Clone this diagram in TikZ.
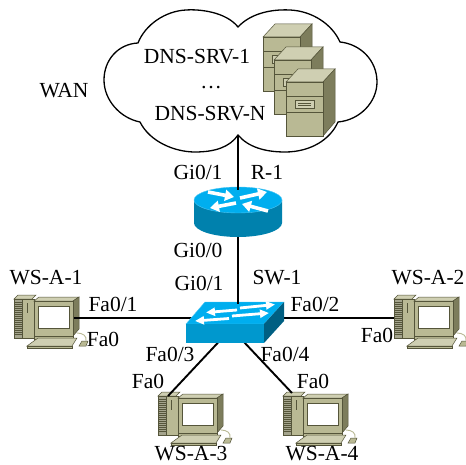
\documentclass[tikz,border=0pt]{standalone}
\usepackage{fontspec}
\usetikzlibrary{arrows.meta}
\setmainfont{Liberation Serif}
\definecolor{srvfront}{HTML}{B9B994}
\definecolor{srvtop}{HTML}{CFCFB2}
\definecolor{srvside}{HTML}{7D7D5C}
\definecolor{srvline}{HTML}{55553A}
\definecolor{ciscotop}{HTML}{00AEEF}
\definecolor{ciscoside}{HTML}{0081AD}
\definecolor{ciscofront}{HTML}{0098CE}
\definecolor{ciscodark}{HTML}{005F82}
\tikzset{
  lbl/.style={font=\fontsize{21.5}{21.5}\selectfont,inner sep=0pt,text=black},
  link/.style={draw=black,line width=1.9pt},
  part/.style={draw=srvline,line width=0.5pt},
  rarrow/.style={draw=white,line width=3.6pt,-{Triangle[width=11pt,length=9pt,fill=white]}},
  sarrow/.style={draw=white,line width=2.8pt,-{Triangle[width=8pt,length=9pt,fill=white]}},
  pics/server/.style={code={
    \path[part,fill=srvtop] (0,0) -- (12,-13) -- (49,-13) -- (37,0) -- cycle;
    \path[part,fill=srvside] (37,0) -- (49,-13) -- (49,40) -- (37,54) -- cycle;
    \path[part,fill=srvfront] (0,0) rectangle (37,54);
    \draw[srvline,line width=0.5pt] (0,14) -- (37,14) (0,30) -- (37,30);
    \path[part,fill=srvtop] (9,18) rectangle (28,26);
    \draw[srvline,line width=0.5pt] (12,21) -- (25,21) (12,23.5) -- (25,23.5);
  }},
  pics/pc/.style={code={
    \path[part,fill=srvtop] (0,4) -- (4,0) -- (22,0) -- (18,4) -- cycle;
    \path[part,fill=srvside!70!white] (0,4) rectangle (8,43);
    \foreach \yy in {7,9,...,39}{\draw[srvline,line width=0.5pt] (0,\yy) -- (8,\yy);}
    \path[part,fill=srvfront] (8,4) rectangle (20,43);
    \draw[srvline,line width=0.8pt] (13,8) -- (13,18);
    \path[part,fill=srvtop] (20,6) -- (25,2) -- (65,2) -- (59,6) -- cycle;
    \path[part,fill=srvside] (59,6) -- (65,2) -- (65,34) -- (59,41) -- cycle;
    \path[part,fill=srvfront] (20,6) rectangle (59,41);
    \path[draw=srvline,line width=0.9pt,fill=white] (24,11) rectangle (55,33);
    \path[part,fill=srvfront] (20,41) -- (59,41) -- (59,44) -- (20,44) -- cycle;
    \path[part,fill=srvtop] (13,51) -- (24,43) -- (63,43) -- (58,51) -- cycle;
    \path[part,fill=srvfront] (13,51) rectangle (58,53);
    \draw[srvfront,line width=0.9pt] (63,38) .. controls (69,38) and (73,41) .. (72,46);
    \path[part,fill=srvfront] (65,51) -- (68,46) -- (74,46) -- (72,51) -- cycle;
  }}
}
\begin{document}
\begin{tikzpicture}[x=1pt,y=-1pt]
\useasboundingbox (0,0) rectangle (466,465);
\fill[white] (0,0) rectangle (466,465);
% cloud
\draw[black,line width=1.3pt,fill=white]
  (238,27) .. controls (226,12) and (200,9) .. (186,10)
  .. controls (165,11) and (145,25) .. (138,43)
  .. controls (118,44) and (104,60) .. (104,80)
  .. controls (104,100) and (120,118) .. (140,122)
  .. controls (150,142) and (175,152) .. (195,152)
  .. controls (215,152) and (230,147) .. (238,135)
  .. controls (248,147) and (265,152) .. (285,152)
  .. controls (310,152) and (330,140) .. (338,122)
  .. controls (360,120) and (377,102) .. (377,82)
  .. controls (377,60) and (360,44) .. (340,42)
  .. controls (332,24) and (312,11) .. (290,10)
  .. controls (270,9) and (250,14) .. (238,27) -- cycle;
\pic at (263,37) {server};
\pic at (274,60) {server};
\pic at (286,82) {server};
\node[lbl] (wan) at (64,91) {WAN};
\node[lbl] (dns1) at (197,57) {DNS-SRV-1};
\node[lbl] (dots) at (211,88) {…};
\node[lbl] (dnsn) at (210,114) {DNS-SRV-N};
% named ports
\coordinate (cloudport) at (238,135);
\coordinate (rtop) at (238,190);
\coordinate (rbot) at (238,237);
\coordinate (swtop) at (238,304);
\coordinate (swleft) at (195,318);
\coordinate (swright) at (280,318);
\coordinate (swdl) at (219.5,341);
\coordinate (swdr) at (243,341);
\coordinate (pc1port) at (74,318);
\coordinate (pc2port) at (394,318);
\coordinate (pc3port) at (168,396);
\coordinate (pc4port) at (292,393);
% PCs
\pic at (14,295) {pc};
\pic at (394,295) {pc};
\pic at (158,392) {pc};
\pic at (283,392) {pc};
% connectors
\draw[link] (pc1port) -- (swleft);
\draw[link] (swright) -- (pc2port);
\draw[link] (swdl) -- (pc3port);
\draw[link] (swdr) -- (pc4port);
% router
\path[fill=ciscoside] (194,200) -- (194,223) arc[start angle=180,end angle=0,x radius=44,y radius=14] -- (282,200) -- cycle;
\path[fill=ciscotop,draw=ciscotop!70!white,line width=0.4pt] (238,200) ellipse[x radius=44,y radius=13];
\draw[link] (cloudport) -- (rtop);
\draw[rarrow] (208,192) -- (234,197);
\draw[rarrow] (236,203) -- (210,208);
\draw[rarrow] (240,198) -- (267,192);
\draw[rarrow] (268,211) -- (242,204);
% switch
\path[fill=ciscotop,draw=ciscotop!70!white,line width=0.4pt] (186,324) -- (205,302) -- (284,302) -- (264,324) -- cycle;
\path[fill=ciscodark] (264,324) -- (284,302) -- (284,321) -- (264,343) -- cycle;
\path[fill=ciscofront] (186,324) rectangle (264,343);
\draw[link] (rbot) -- (swtop);
\draw[sarrow] (240,308) -- (275,304.5);
\draw[sarrow] (237,310) -- (206,312.5);
\draw[sarrow] (232,316) -- (269,313);
\draw[sarrow] (229,318.5) -- (195,321);
% labels
\node[lbl] (l1) at (198,172) {Gi0/1};
\node[lbl] (l2) at (267,172) {R-1};
\node[lbl] (l3) at (198,250) {Gi0/0};
\node[lbl] (l4) at (199,283) {Gi0/1};
\node[lbl] (l5) at (277,278) {SW-1};
\node[lbl] (l6) at (46,278) {WS-A-1};
\node[lbl] (l7) at (428,278) {WS-A-2};
\node[lbl] (l8) at (113,304) {Fa0/1};
\node[lbl] (l9) at (315,304) {Fa0/2};
\node[lbl] (l10) at (103,339) {Fa0};
\node[lbl] (l11) at (377,335) {Fa0};
\node[lbl] (l12) at (170,354) {Fa0/3};
\node[lbl] (l13) at (285,354) {Fa0/4};
\node[lbl] (l14) at (148,381) {Fa0};
\node[lbl] (l15) at (313,381) {Fa0};
\node[lbl] (l16) at (191,454) {WS-A-3};
\node[lbl] (l17) at (322,454) {WS-A-4};
\end{tikzpicture}
\end{document}
